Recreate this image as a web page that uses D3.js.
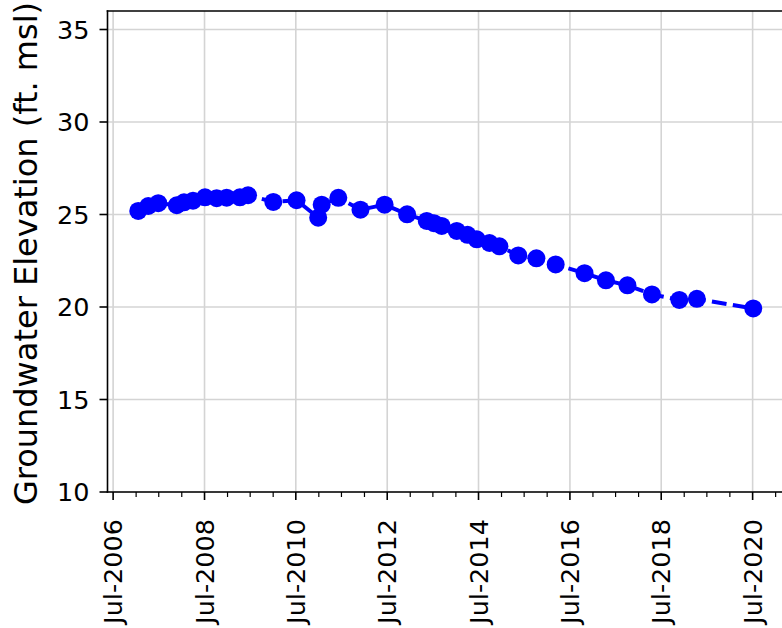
<!DOCTYPE html>
<html>
<head>
<meta charset="utf-8">
<script src="https://cdn.jsdelivr.net/npm/d3@7"></script>
<style>
  html, body { margin: 0; padding: 0; background: #fff; }
  svg { display: block; font-family: "DejaVu Sans", sans-serif; }
</style>
</head>
<body>
<svg id="chart" width="782" height="628"></svg>
<script>
// ---- data ----
const dates = [
  "2007-01-18","2007-04-08","2007-06-27","2007-11-22","2008-01-19","2008-03-31",
  "2008-07-05","2008-10-06","2008-12-25","2009-04-10","2009-06-14","2010-01-02",
  "2010-07-07","2010-12-27","2011-01-24","2011-06-06","2011-11-30","2012-06-10",
  "2012-12-07","2013-05-13","2013-07-10","2013-09-10","2014-01-08","2014-04-04",
  "2014-06-17","2014-09-27","2014-12-15","2015-05-15","2015-10-07","2016-03-09",
  "2016-10-26","2017-04-15","2017-10-04","2018-04-18","2018-11-23","2019-04-12",
  "2020-07-06"
];
const elevations = [
  25.19, 25.46, 25.61, 25.50, 25.66, 25.75,
  25.93, 25.88, 25.91, 25.93, 26.04, 25.68,
  25.77, 24.83, 25.53, 25.90, 25.26, 25.53,
  25.01, 24.65, 24.53, 24.38, 24.11, 23.90,
  23.66, 23.46, 23.28, 22.79, 22.63, 22.30,
  21.83, 21.44, 21.17, 20.68, 20.38, 20.44,
  19.92
];
const yTicks = [10, 15, 20, 25, 30, 35];
const yDomain = [10, 36];
const xTickYears = [2006, 2008, 2010, 2012, 2014, 2016, 2018, 2020];
const yLabel = "Groundwater Elevation (ft. msl)";

(function () {
  const svg = d3.select("#chart");
  const pL = 107.5, pR = 784, pT = 11, pB = 492;
  const parse = d3.utcParse("%Y-%m-%d");
  const data = dates.map((d, i) => ({ date: parse(d), value: elevations[i] }));

  const tExt = d3.extent(data, d => d.date.getTime());
  const pad = (tExt[1] - tExt[0]) * 0.05;
  const x = d3.scaleUtc()
    .domain([new Date(tExt[0] - pad), new Date(tExt[1] + pad)])
    .range([pL, pR]);
  const y = d3.scaleLinear().domain(yDomain).range([pB, pT]);

  const majorDates = xTickYears.map(yr => new Date(Date.UTC(yr, 6, 1)));
  const minorDates = [];
  for (let yr = 2006; yr <= 2021; yr++) {
    [0, 6].forEach(m => {
      const d = new Date(Date.UTC(yr, m, 1));
      const px = x(d);
      if (px >= pL - 0.5 && px <= pR && !(m === 6 && yr % 2 === 0)) minorDates.push(d);
    });
  }

  const gridColor = "#d4d4d4";
  const g = svg.append("g");
  g.selectAll(".vg").data(majorDates).enter().append("line")
    .attr("x1", d => x(d)).attr("x2", d => x(d))
    .attr("y1", pT).attr("y2", pB)
    .attr("stroke", gridColor).attr("stroke-width", 1.6);
  g.selectAll(".hg").data(yTicks).enter().append("line")
    .attr("x1", pL).attr("x2", pR)
    .attr("y1", d => y(d)).attr("y2", d => y(d))
    .attr("stroke", gridColor).attr("stroke-width", 1.6);

  const line = d3.line().x(d => x(d.date)).y(d => y(d.value));
  svg.append("path").datum(data)
    .attr("d", line)
    .attr("fill", "none")
    .attr("stroke", "#0000ff")
    .attr("stroke-width", 4)
    .attr("stroke-dasharray", "14.8,6.4");

  svg.selectAll(".pt").data(data).enter().append("circle")
    .attr("cx", d => x(d.date)).attr("cy", d => y(d.value))
    .attr("r", 9).attr("fill", "#0000ff");

  svg.append("line").attr("x1", pL).attr("x2", pL).attr("y1", pT - 0.8).attr("y2", pB + 0.8)
    .attr("stroke", "#000").attr("stroke-width", 1.6);
  svg.append("line").attr("x1", pL - 0.8).attr("x2", pR).attr("y1", pB).attr("y2", pB)
    .attr("stroke", "#000").attr("stroke-width", 1.6);
  svg.append("line").attr("x1", pL - 0.8).attr("x2", pR).attr("y1", pT).attr("y2", pT)
    .attr("stroke", "#000").attr("stroke-width", 1.6);

  const fs = 25.5;
  const yAxis = svg.append("g");
  yAxis.selectAll(".yt").data(yTicks).enter().append("line")
    .attr("x1", pL - 8).attr("x2", pL)
    .attr("y1", d => y(d)).attr("y2", d => y(d))
    .attr("stroke", "#000").attr("stroke-width", 1.6);
  yAxis.selectAll(".yl").data(yTicks).enter().append("text")
    .attr("x", pL - 18).attr("y", d => y(d)).attr("dy", "0.36em")
    .attr("text-anchor", "end").attr("font-size", fs).attr("fill", "#000")
    .text(d => d);

  const xAxis = svg.append("g");
  xAxis.selectAll(".xt").data(majorDates).enter().append("line")
    .attr("x1", d => x(d)).attr("x2", d => x(d))
    .attr("y1", pB).attr("y2", pB + 8)
    .attr("stroke", "#000").attr("stroke-width", 1.6);
  xAxis.selectAll(".xm").data(minorDates).enter().append("line")
    .attr("x1", d => x(d)).attr("x2", d => x(d))
    .attr("y1", pB).attr("y2", pB + 5)
    .attr("stroke", "#000").attr("stroke-width", 1.2);
  const fmt = d3.utcFormat("%b-%Y");
  xAxis.selectAll(".xl").data(majorDates).enter().append("text")
    .attr("transform", d => `translate(${x(d)},${pB + 27}) rotate(-90)`)
    .attr("dy", "0.36em")
    .attr("text-anchor", "end").attr("font-size", fs).attr("fill", "#000")
    .text(d => fmt(d));

  svg.append("text")
    .attr("transform", `translate(37,${(pT + pB) / 2 + 2}) rotate(-90)`)
    .attr("text-anchor", "middle").attr("font-size", 32).attr("fill", "#000")
    .text(yLabel);
})();
</script>
</body>
</html>
